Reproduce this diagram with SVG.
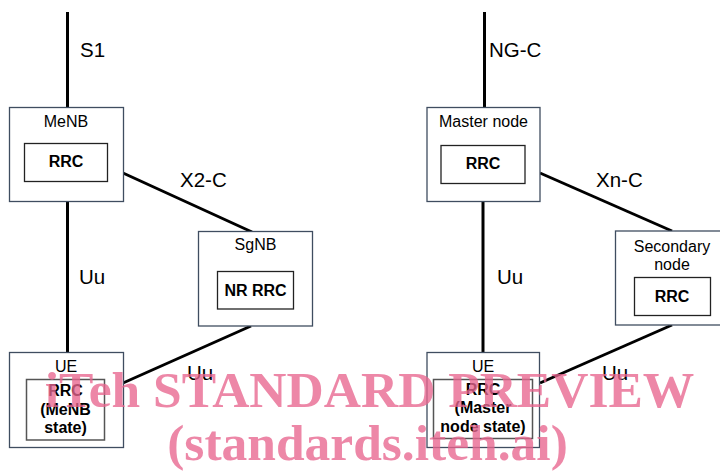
<svg xmlns="http://www.w3.org/2000/svg" width="720" height="473" viewBox="0 0 720 473">
<style>
.outer{fill:#fff;stroke:#3f4d60;stroke-width:1.3}
.inner{fill:#fff;stroke:#222;stroke-width:1.3}
.innerg{fill:none;stroke:#555;stroke-width:1.5}
.lbl{font-family:"Liberation Sans",Arial,sans-serif;font-size:16px;fill:#000;text-anchor:middle}
.bold{font-family:"Liberation Sans",Arial,sans-serif;font-size:16px;font-weight:bold;fill:#000;text-anchor:middle}
.if{font-family:"Liberation Sans",Arial,sans-serif;font-size:20.5px;fill:#000}
.conn{stroke:#000;stroke-width:3;fill:none}
.wm{font-family:"Liberation Serif","Times New Roman",serif;font-size:51.5px;font-weight:bold;fill:#e8668f;opacity:0.78;text-anchor:middle}
</style>
<rect width="720" height="473" fill="#fff"/>
<g id="connectors">
<line class="conn" x1="67.5" y1="12" x2="67.5" y2="107.5"/>
<line class="conn" x1="123" y1="173" x2="252" y2="232"/>
<line class="conn" x1="67.5" y1="201.5" x2="67.5" y2="352.5"/>
<line class="conn" x1="123" y1="383" x2="251" y2="326"/>
<line class="conn" x1="484.5" y1="12" x2="484.5" y2="107.5"/>
<line class="conn" x1="540" y1="173" x2="672" y2="231"/>
<line class="conn" x1="483" y1="201.5" x2="483" y2="352.5"/>
<line class="conn" x1="540" y1="383" x2="672" y2="325"/>
</g>
<g id="interface-labels">
<text class="if" x="80" y="57">S1</text>
<text class="if" x="180" y="187">X2-C</text>
<text class="if" x="79" y="284">Uu</text>
<text class="if" x="187" y="380">Uu</text>
<text class="if" x="489" y="57">NG-C</text>
<text class="if" x="596" y="187">Xn-C</text>
<text class="if" x="497" y="284">Uu</text>
<text class="if" x="602" y="380">Uu</text>
</g>
<g id="menb">
<rect class="outer" x="9.5" y="107.5" width="114" height="94"/>
<text class="lbl" x="66" y="127">MeNB</text>
<rect class="inner" x="24.5" y="143.5" width="83" height="38"/>
<text class="bold" x="66" y="167">RRC</text>
</g>
<g id="sgnb">
<rect class="outer" x="198.5" y="231.5" width="114" height="94.5"/>
<text class="lbl" x="255.5" y="250">SgNB</text>
<rect class="inner" x="217.5" y="271.5" width="76" height="37.5"/>
<text class="bold" x="255.5" y="296">NR RRC</text>
</g>
<g id="ue-left">
<rect class="outer" x="9.5" y="352.5" width="114" height="95"/>
<text class="lbl" x="66" y="372">UE</text>
<rect class="innerg" x="26.5" y="379.5" width="78" height="60.5"/>
<text class="bold" x="65.5" y="396">RRC</text>
<text class="bold" x="65.5" y="414.5">(MeNB</text>
<text class="bold" x="65.5" y="433">state)</text>
</g>
<g id="master-node">
<rect class="outer" x="427" y="107.5" width="113" height="94"/>
<text class="lbl" x="483.5" y="127">Master node</text>
<rect class="inner" x="441" y="145.5" width="84" height="38"/>
<text class="bold" x="483" y="169">RRC</text>
</g>
<g id="secondary-node">
<rect class="outer" x="615.5" y="231" width="113" height="94"/>
<text class="lbl" x="672" y="251.5">Secondary</text>
<text class="lbl" x="672" y="269.5">node</text>
<rect class="inner" x="634.5" y="277.5" width="76" height="38"/>
<text class="bold" x="672" y="301.5">RRC</text>
</g>
<g id="ue-right">
<rect class="outer" x="427" y="352.5" width="112.5" height="95"/>
<text class="lbl" x="483" y="372">UE</text>
<rect class="innerg" x="433.5" y="379.5" width="99" height="59"/>
<text class="bold" x="483" y="395">RRC</text>
<text class="bold" x="483" y="413">(Master</text>
<text class="bold" x="483" y="431.5">node state)</text>
</g>
<g id="watermark">
<text class="wm" x="369.5" y="407">iTeh STANDARD PREVIEW</text>
<text class="wm" x="367.5" y="460">(standards.iteh.ai)</text>
</g>
</svg>
